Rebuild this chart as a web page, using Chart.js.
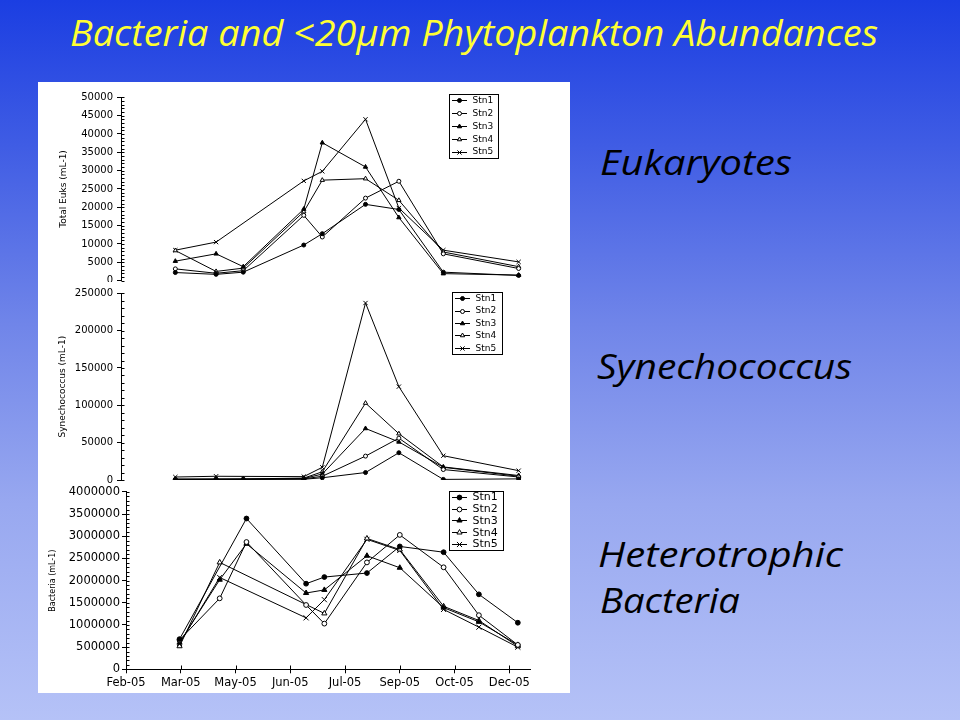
<!DOCTYPE html>
<html>
<head>
<meta charset="utf-8">
<script src="https://cdn.jsdelivr.net/npm/chart.js@4.4.0/dist/chart.umd.min.js"></script>
<style>
html,body{margin:0;padding:0;width:960px;height:720px;overflow:hidden;}
body{position:relative;background:linear-gradient(to bottom,#1b3ee2 0%,#3f5ce4 20%,#7085e9 45%,#98a8f0 70%,#b5c2f7 100%);}
.fit{position:absolute;white-space:nowrap;display:inline-block;transform-origin:0 0;line-height:1;font-style:italic;font-family:"Comic Sans MS","Open Sans","DejaVu Sans",sans-serif;}
#title{left:70px;top:15px;font-size:36px;color:#ffff33;}
.side{font-size:34px;color:#000;}
#panel{position:absolute;left:38px;top:82px;width:532px;height:611px;background:#fff;}
.region{position:absolute;left:0;width:532px;overflow:hidden;}
.region canvas{position:absolute;left:0;top:0;}
</style>
</head>
<body>
<div id="title" class="fit" data-w="808">Bacteria and &lt;20µm Phytoplankton Abundances</div>
<div class="fit side" style="left:600px;top:145px;" data-w="192">Eukaryotes</div>
<div class="fit side" style="left:597px;top:349px;" data-w="255">Synechococcus</div>
<div class="fit side" style="left:598px;top:537px;" data-w="245">Heterotrophic</div>
<div class="fit side" style="left:600px;top:583px;" data-w="140">Bacteria</div>

<div id="panel">
  <div class="region" style="top:0;height:200px;"><canvas id="cEuk" width="532" height="240"></canvas></div>
  <div class="region" style="top:200px;height:201px;"><canvas id="cSyn" width="532" height="240"></canvas></div>
  <div class="region" style="top:401px;height:210px;"><canvas id="cBac" width="532" height="210"></canvas></div>
</div>

<script>
// ---------- DATA ----------
const stations = ['Stn1', 'Stn2', 'Stn3', 'Stn4', 'Stn5'];
const sampleDates = ['2005-03-17', '2005-04-19', '2005-05-11', '2005-06-29', '2005-07-14',
                     '2005-08-18', '2005-09-14', '2005-10-20', '2005-11-18', '2005-12-20'];
const axisStartDate = '2005-02-01';
const axisEndDate = '2005-12-30';
const xTickStepDays = 45;
const xTickLabels = ['Feb-05', 'Mar-05', 'May-05', 'Jun-05', 'Jul-05', 'Sep-05', 'Oct-05', 'Dec-05'];

// Total eukaryotes (mL-1)
const euksStn1 = [2200, 1700, 2300, 9700, 12800, 20800, 19400, 2300, null, 1400];
const euksStn2 = [3200, 2000, 2700, 17800, 11900, 22500, 27100, 7300, null, 3300];
const euksStn3 = [5300, 7300, 3800, 19500, 37600, 31000, 17200, 1900, null, 1500];
const euksStn4 = [8200, 2500, 3400, 18800, 27400, 27800, 21900, 7800, null, 3800];
const euksStn5 = [8300, 10500, null, 27200, 29800, 44000, 19800, 8300, null, 5100];
const euksTicks = [0, 5000, 10000, 15000, 20000, 25000, 30000, 35000, 40000, 45000, 50000];

// Synechococcus (mL-1)
const synStn1 = [500, 500, 800, 1000, 3000, 10000, 36500, 800, null, 1500];
const synStn2 = [800, 800, 1000, 1500, 5000, 32000, 56000, 14000, null, 4000];
const synStn3 = [1000, 1000, 1200, 2000, 8000, 69000, 51000, 17000, null, 5000];
const synStn4 = [1200, 1500, 1500, 2500, 11000, 103000, 62000, 17500, null, 6000];
const synStn5 = [4000, 5000, null, 4500, 17000, 237000, 125000, 32500, null, 12500];
const synTicks = [0, 50000, 100000, 150000, 200000, 250000];

// Heterotrophic bacteria (mL-1)
const bacStn1 = [680000, null, 3400000, 1930000, 2080000, 2170000, 2770000, 2640000, 1690000, 1050000];
const bacStn2 = [660000, 1600000, 2870000, 1450000, 1030000, 2410000, 3030000, 2300000, 1220000, 550000];
const bacStn3 = [600000, 2020000, 2830000, 1720000, 1790000, 2560000, 2290000, 1390000, 1070000, 550000];
const bacStn4 = [520000, 2410000, null, null, 1260000, 2950000, 2700000, 1420000, 1100000, 520000];
const bacStn5 = [580000, 2070000, null, 1160000, 1570000, 2930000, 2680000, 1350000, 950000, 500000];
const bacTicks = [0, 500000, 1000000, 1500000, 2000000, 2500000, 3000000, 3500000, 4000000];

// ---------- HELPERS ----------
function dayOf(iso) {
  const [y, m, d] = iso.split('-').map(Number);
  const [y0, m0, d0] = axisStartDate.split('-').map(Number);
  return (Date.UTC(y, m - 1, d) - Date.UTC(y0, m0 - 1, d0)) / 86400000;
}
const sampleDays = sampleDates.map(dayOf);
const xMaxDay = dayOf(axisEndDate);
const xTickDays = xTickLabels.map((_, i) => i * xTickStepDays);

const markerStyles = [
  {style: 'circle', fill: '#000', k: 1},
  {style: 'circle', fill: '#fff', k: 1},
  {style: 'triangle', fill: '#000', k: 1.25},
  {style: 'triangle', fill: '#fff', k: 1.25},
  {style: 'crossRot', fill: '#000', k: 1.5}
];

const stnLegendPlugin = {
  id: 'stnLegend',
  afterDraw(chart, args, o) {
    if (!o || !o.display) return;
    const ctx = chart.ctx, ca = chart.chartArea;
    const bx = ca.right + o.dx, by = ca.top + o.dy;
    ctx.save();
    ctx.fillStyle = '#fff';
    ctx.fillRect(bx, by, o.w, o.h);
    ctx.strokeStyle = '#000';
    ctx.lineWidth = 1;
    ctx.strokeRect(Math.round(bx) + 0.5, Math.round(by) + 0.5, Math.round(o.w), Math.round(o.h));
    const n = chart.data.datasets.length;
    chart.data.datasets.forEach((ds, i) => {
      const cy = by + o.h * (i + 0.5) / n;
      ctx.strokeStyle = '#000';
      ctx.lineWidth = 1;
      ctx.beginPath();
      ctx.moveTo(bx + 3, Math.round(cy) + 0.5);
      ctx.lineTo(bx + 18, Math.round(cy) + 0.5);
      ctx.stroke();
      ctx.fillStyle = ds.pointBackgroundColor;
      ctx.strokeStyle = '#000';
      Chart.helpers.drawPoint(ctx, {pointStyle: ds.pointStyle, radius: ds.pointRadius, borderWidth: 1, rotation: 0}, bx + 10.5, Math.round(cy) + 0.5);
      ctx.fillStyle = '#000';
      ctx.font = o.fontSize + 'px "DejaVu Sans", Verdana, sans-serif';
      ctx.textAlign = 'left';
      ctx.textBaseline = 'middle';
      ctx.fillText(ds.label, bx + 23.5, cy + 0.5);
    });
    ctx.restore();
  }
};

const minorTicksPlugin = {
  id: 'minorTicks',
  afterDraw(chart, args, o) {
    if (!o) return;
    const ctx = chart.ctx, ca = chart.chartArea;
    const ys = chart.scales.y, xs = chart.scales.x;
    ctx.save();
    ctx.strokeStyle = '#000';
    ctx.lineWidth = 1;
    ctx.beginPath();
    const x0 = Math.round(ca.left) + 0.5;
    for (let v = ys.min; v <= ys.max + 1e-6; v += o.yMinor) {
      const py = Math.round(ys.getPixelForValue(v)) + 0.5;
      ctx.moveTo(x0, py);
      ctx.lineTo(x0 + 3, py);
    }
    if (o.xInside) {
      const y0 = Math.round(ca.bottom) + 0.5;
      xTickDays.forEach(d => {
        const px = Math.round(xs.getPixelForValue(d)) + 0.5;
        ctx.moveTo(px, y0);
        ctx.lineTo(px, y0 - 4);
      });
    }
    ctx.stroke();
    ctx.restore();
  }
};

function makeChart(id, series, yTicks, cfg) {
  const datasets = stations.map((name, i) => {
    const ms = markerStyles[i];
    return {
      label: name,
      data: sampleDays.map((d, k) => ({x: d, y: series[i][k]})).filter(p => p.y !== null),
      borderColor: '#000',
      borderWidth: 1,
      pointStyle: ms.style,
      pointRadius: cfg.r * ms.k,
      pointBackgroundColor: ms.fill,
      pointBorderColor: '#000',
      pointBorderWidth: 1,
      tension: 0,
      fill: false,
      spanGaps: true
    };
  });
  const tickFont = {family: '"DejaVu Sans", Verdana, sans-serif', size: cfg.tickFont};
  return new Chart(document.getElementById(id), {
    type: 'line',
    data: {datasets},
    options: {
      responsive: false,
      animation: false,
      devicePixelRatio: 1,
      events: [],
      layout: {padding: cfg.padding},
      plugins: {
        legend: {display: false},
        tooltip: {enabled: false},
        stnLegend: Object.assign({display: true}, cfg.legend),
        minorTicks: {yMinor: cfg.yMinor, xInside: cfg.showX}
      },
      scales: {
        x: {
          type: 'linear',
          display: cfg.showX,
          min: 0,
          max: xMaxDay,
          afterBuildTicks: s => { s.ticks = xTickDays.map(v => ({value: v})); },
          afterFit: s => { if (cfg.showX) s.height = cfg.xHeight; },
          ticks: {
            autoSkip: false, maxRotation: 0, color: '#000', font: tickFont, padding: 3,
            callback: (v, i) => xTickLabels[i]
          },
          grid: {drawOnChartArea: false, drawTicks: true, tickLength: 4, color: '#000'},
          border: {display: true, color: '#000', width: 1}
        },
        y: {
          min: yTicks[0],
          max: yTicks[yTicks.length - 1],
          afterBuildTicks: s => { s.ticks = yTicks.map(v => ({value: v})); },
          afterFit: s => { s.width = cfg.yWidth; },
          ticks: {color: '#000', font: tickFont, padding: cfg.yPad, callback: v => String(v)},
          grid: {drawOnChartArea: false, drawTicks: true, tickLength: 4, color: '#000'},
          border: {display: true, color: '#000', width: 1},
          title: {
            display: true, text: cfg.yTitle, color: '#000',
            font: {family: '"DejaVu Sans", Verdana, sans-serif', size: cfg.titleFont},
            padding: {top: 0, bottom: 0}
          }
        }
      }
    },
    plugins: [stnLegendPlugin, minorTicksPlugin]
  });
}

makeChart('cEuk', [euksStn1, euksStn2, euksStn3, euksStn4, euksStn5], euksTicks, {
  r: 2, tickFont: 10, titleFont: 9, yTitle: 'Total Euks (mL-1)', yMinor: 1000, yPad: 4,
  showX: false, yWidth: 62.4,
  padding: {left: 20.6, top: 15.3, right: 39, bottom: 41.4},
  legend: {dx: -82, dy: -3.3, w: 49, h: 64, fontSize: 9}
});
makeChart('cSyn', [synStn1, synStn2, synStn3, synStn4, synStn5], synTicks, {
  r: 2, tickFont: 10, titleFont: 9, yTitle: 'Synechococcus (mL-1)', yMinor: 10000, yPad: 4,
  showX: false, yWidth: 64.1,
  padding: {left: 18.9, top: 11.3, right: 39, bottom: 42},
  legend: {dx: -79, dy: -1.3, w: 50, h: 62, fontSize: 9}
});
makeChart('cBac', [bacStn1, bacStn2, bacStn3, bacStn4, bacStn5], bacTicks, {
  r: 2.4, tickFont: 11.5, titleFont: 8, yTitle: 'Bacteria (mL-1)', yMinor: 100000, yPad: 2,
  showX: true, xHeight: 23.7, yWidth: 77.5,
  padding: {left: 10.5, top: 8, right: 40, bottom: 0},
  legend: {dx: -81, dy: -1, w: 54, h: 59, fontSize: 11}
});

function fitText() {
  document.querySelectorAll('.fit').forEach(el => {
    el.style.transform = 'none';
    const w = el.getBoundingClientRect().width;
    const target = parseFloat(el.dataset.w);
    if (w > 0) el.style.transform = 'scaleX(' + (target / w) + ')';
  });
}
fitText();
if (document.fonts && document.fonts.ready) document.fonts.ready.then(fitText);
window.addEventListener('load', fitText);
</script>
</body>
</html>
